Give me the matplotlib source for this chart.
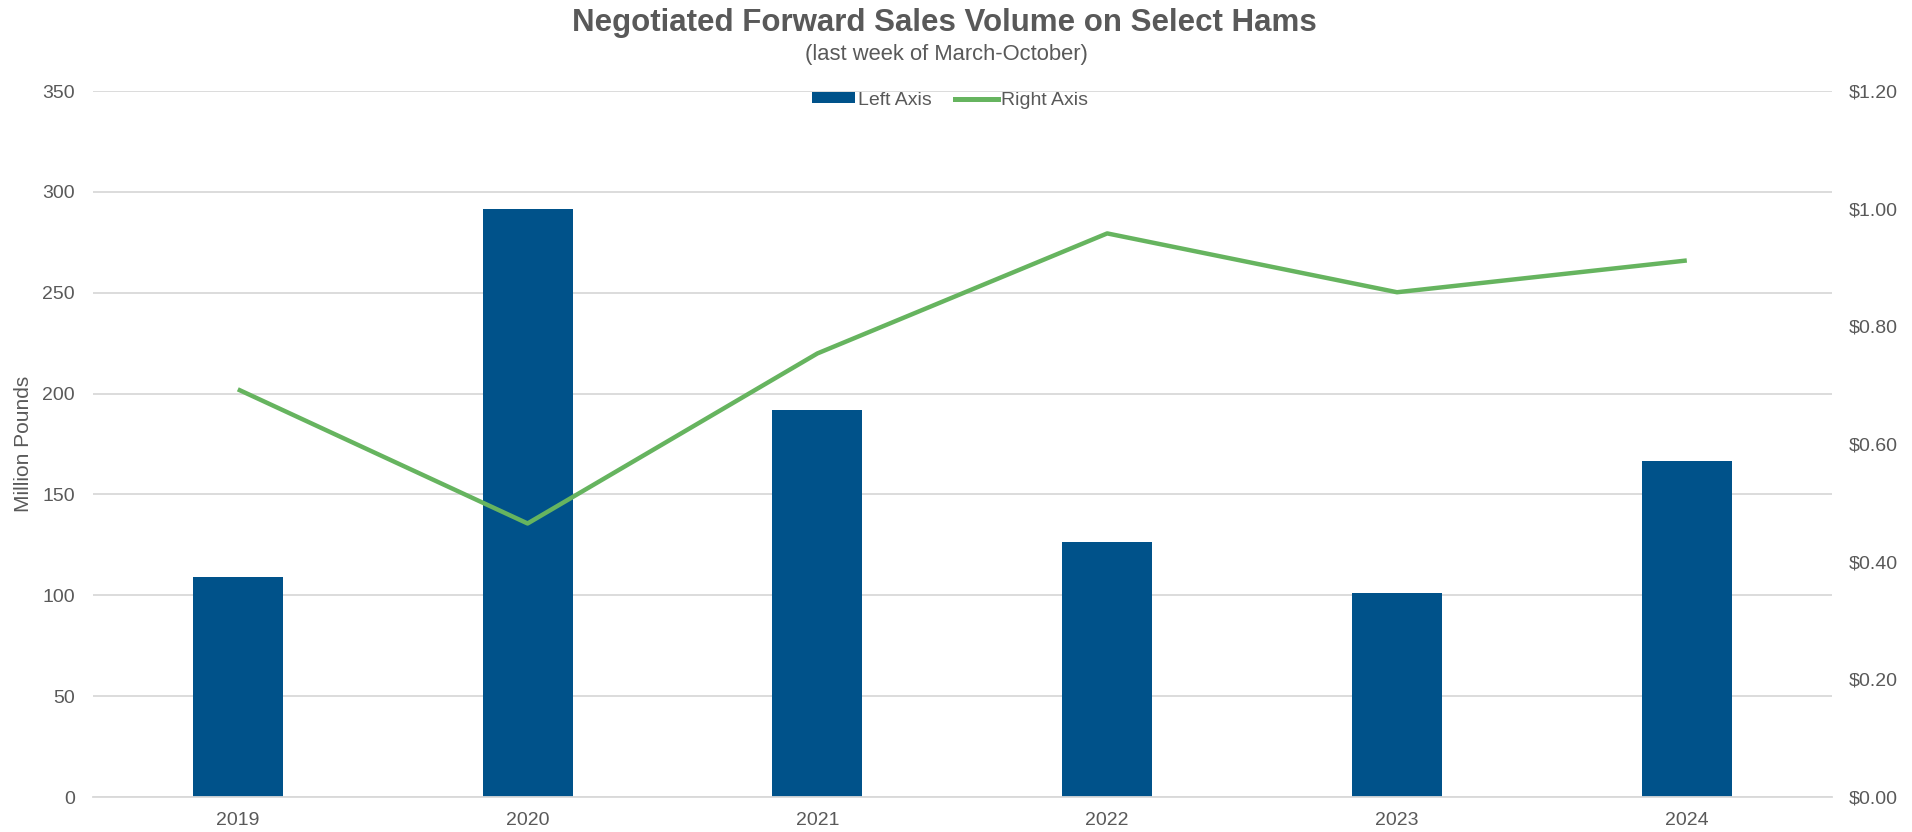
import matplotlib
matplotlib.use("Agg")
import matplotlib.pyplot as plt
from matplotlib.ticker import FuncFormatter, MultipleLocator
from matplotlib.lines import Line2D
from matplotlib.patches import Patch

years = ["2019", "2020", "2021", "2022", "2023", "2024"]
volume_mlbs = [108.9, 291.5, 192.1, 126.2, 101.4, 166.7]
price_usd = [0.693, 0.465, 0.754, 0.958, 0.858, 0.912]

BAR_COLOR = "#00528A"
LINE_COLOR = "#66B45F"
TEXT_COLOR = "#595959"
GRID_COLOR = "#D9D9D9"

plt.rcParams["font.family"] = ["Liberation Sans", "DejaVu Sans"]

fig = plt.figure(figsize=(19.12, 8.32), dpi=100)
ax = fig.add_axes([0.0486, 0.042, 0.9094, 0.8486])
ax2 = ax.twinx()

x = list(range(len(years)))
ax.bar(x, volume_mlbs, width=0.31, color=BAR_COLOR, zorder=2)
ax2.plot(x, price_usd, color=LINE_COLOR, linewidth=3.2, solid_capstyle="butt", zorder=3)

ax.set_xlim(-0.5, len(years) - 0.5)
ax.set_ylim(0, 350)
ax2.set_ylim(0, 1.2)
ax.yaxis.set_major_locator(MultipleLocator(50))
ax2.yaxis.set_major_locator(MultipleLocator(0.2))
ax2.yaxis.set_major_formatter(FuncFormatter(lambda v, _: f"${v:.2f}"))

ax.set_xticks(x)
ax.set_xticklabels(years)

ax.grid(axis="y", color=GRID_COLOR, linewidth=1.3, zorder=0)
ax.set_axisbelow(True)
for a in (ax, ax2):
    for s in a.spines.values():
        s.set_visible(False)
ax.spines["bottom"].set_visible(True)
ax.spines["bottom"].set_color(GRID_COLOR)
ax.spines["bottom"].set_linewidth(1.3)

ax.tick_params(axis="both", length=0, labelsize=14, labelcolor=TEXT_COLOR)
ax.tick_params(axis="y", pad=13)
ax.tick_params(axis="x", pad=11)
ax2.tick_params(axis="y", length=0, labelsize=14, labelcolor=TEXT_COLOR, pad=12.5)

ax.set_ylabel("Million Pounds", fontsize=15, color=TEXT_COLOR, labelpad=7)

fig.text(0.494, 0.9625, "Negotiated Forward Sales Volume on Select Hams",
         ha="center", va="baseline", fontsize=22.5, fontweight="bold", color=TEXT_COLOR)
fig.text(0.495, 0.935, "(last week of March-October)",
         ha="center", va="center", fontsize=15.8, color=TEXT_COLOR)

handles = [Patch(facecolor=BAR_COLOR, edgecolor="none"),
           Line2D([0], [0], color=LINE_COLOR, linewidth=3.6)]
leg = ax2.legend(handles, ["Left Axis", "Right Axis"], loc="center",
                 bbox_to_anchor=(0.493, 0.987), ncol=2, frameon=False,
                 fontsize=14, handlelength=2.2, handleheight=0.46,
                 columnspacing=1.2, handletextpad=0.15, borderaxespad=0)
for t in leg.get_texts():
    t.set_color(TEXT_COLOR)

fig.savefig("out.png", dpi=100, facecolor="white")
